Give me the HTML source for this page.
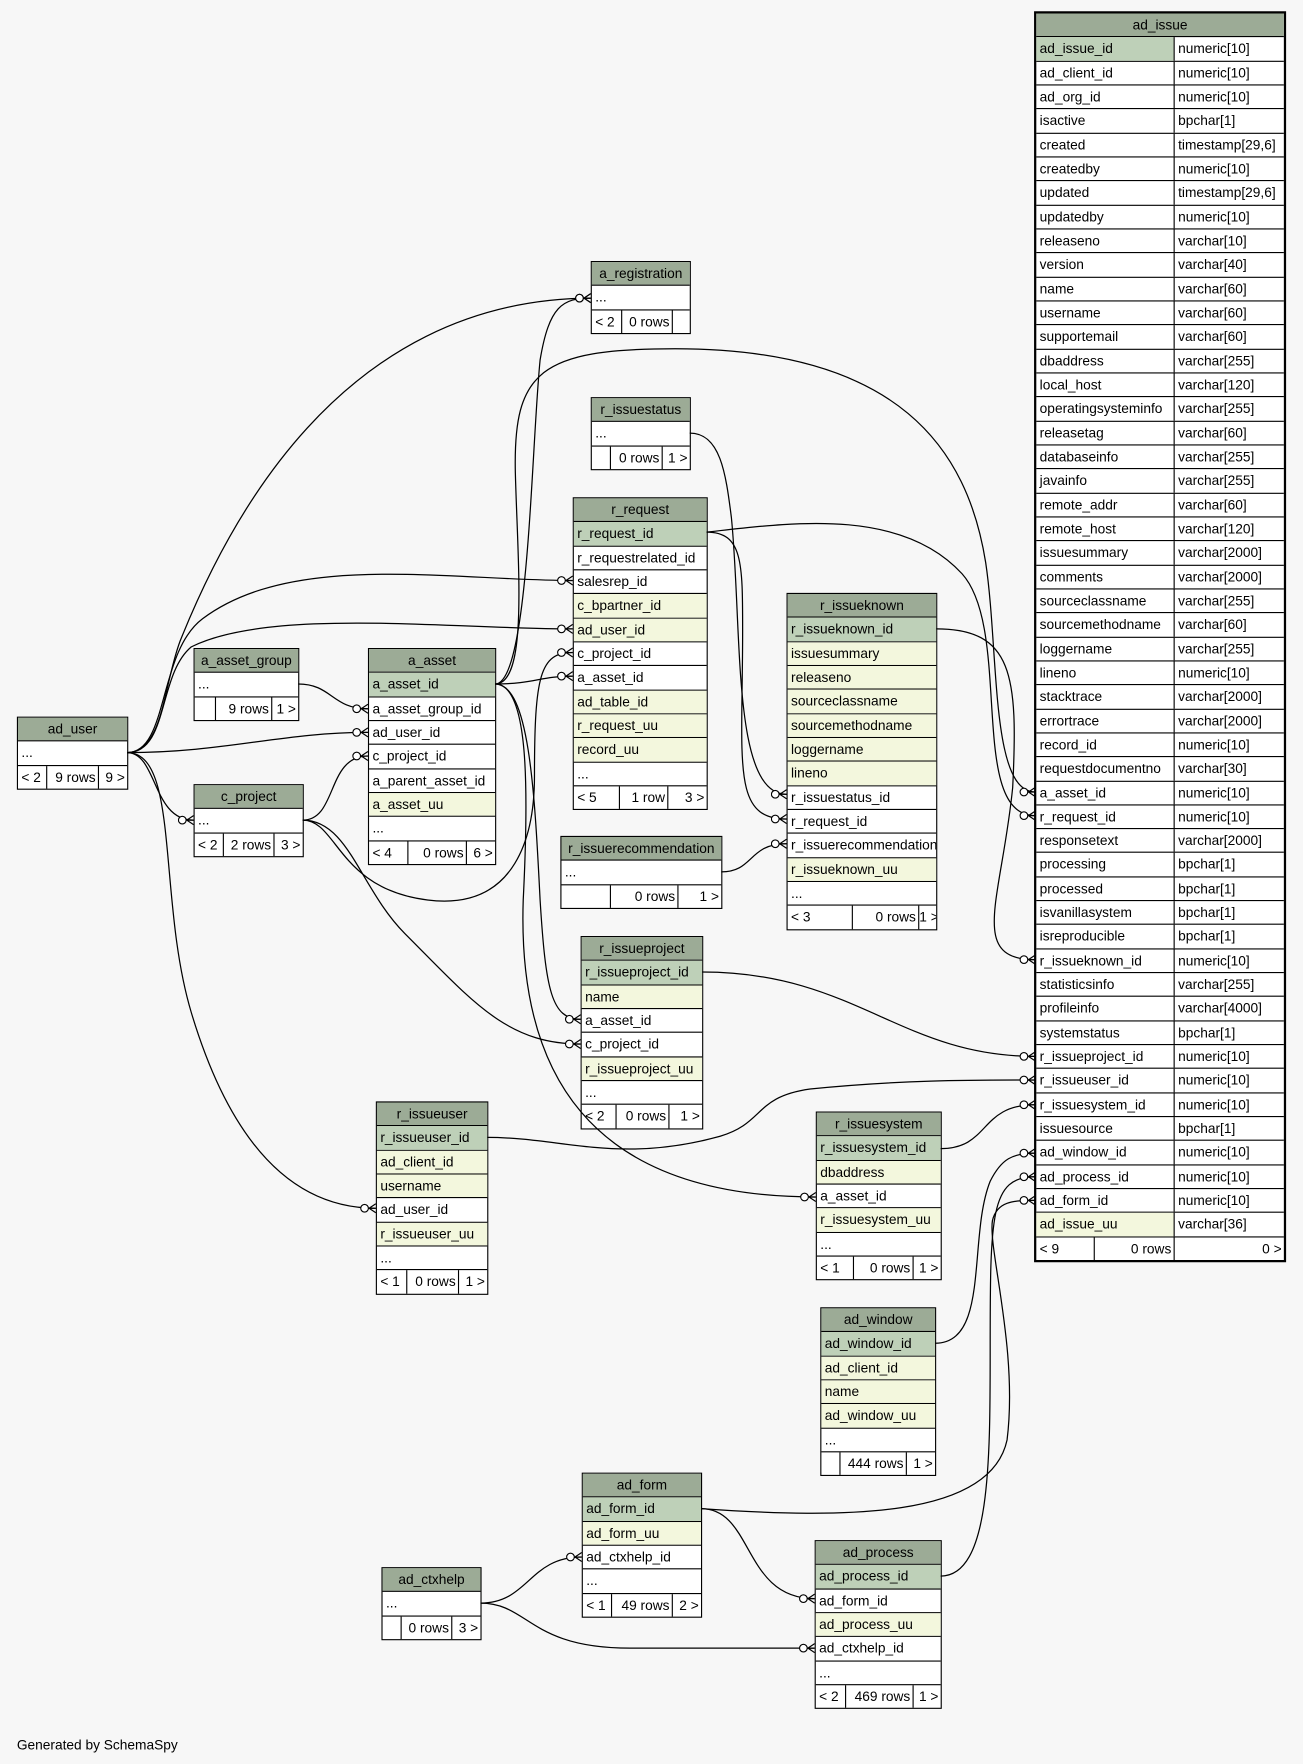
<!DOCTYPE html>
<html><head><meta charset="utf-8"><style>
html,body{margin:0;padding:0;background:#f7f7f7;}
#c{position:absolute;left:0;top:0;width:1158px;height:1568px;transform:scale(1.1252,1.125);transform-origin:0 0;font-family:"Liberation Sans",Arial,sans-serif;font-size:12.2px;color:#000;}
.t{position:absolute;box-sizing:border-box;border:1px solid #000;background:#fff;}
.t.b{border:2px solid #000;}
.h{height:20.33px;line-height:20.33px;background:#9cab96;text-align:center;}
.r{display:flex;height:20.33px;border-top:1px solid #000;line-height:20.33px;white-space:nowrap;}
.r span{box-sizing:border-box;padding:0 2px 0 3px;overflow:hidden;}
.r span+span{border-left:1px solid #000;}
.r span:last-child{flex:1;}
.p>span:first-child{background:#bed0b8;}
.y>span:first-child{background:#f3f7dd;}
.f .rt{text-align:right;}
svg{position:absolute;left:0;top:0;}
#g{position:absolute;left:15px;top:1544px;}
</style></head><body><div id="c">

<div class="t b" style="left:919px;top:10px;width:224px;">
<div class="h">ad_issue</div>
<div class="r p"><span style="width:122px">ad_issue_id</span><span>numeric[10]</span></div>
<div class="r"><span style="width:122px">ad_client_id</span><span>numeric[10]</span></div>
<div class="r"><span style="width:122px">ad_org_id</span><span>numeric[10]</span></div>
<div class="r"><span style="width:122px">isactive</span><span>bpchar[1]</span></div>
<div class="r"><span style="width:122px">created</span><span>timestamp[29,6]</span></div>
<div class="r"><span style="width:122px">createdby</span><span>numeric[10]</span></div>
<div class="r"><span style="width:122px">updated</span><span>timestamp[29,6]</span></div>
<div class="r"><span style="width:122px">updatedby</span><span>numeric[10]</span></div>
<div class="r"><span style="width:122px">releaseno</span><span>varchar[10]</span></div>
<div class="r"><span style="width:122px">version</span><span>varchar[40]</span></div>
<div class="r"><span style="width:122px">name</span><span>varchar[60]</span></div>
<div class="r"><span style="width:122px">username</span><span>varchar[60]</span></div>
<div class="r"><span style="width:122px">supportemail</span><span>varchar[60]</span></div>
<div class="r"><span style="width:122px">dbaddress</span><span>varchar[255]</span></div>
<div class="r"><span style="width:122px">local_host</span><span>varchar[120]</span></div>
<div class="r"><span style="width:122px">operatingsysteminfo</span><span>varchar[255]</span></div>
<div class="r"><span style="width:122px">releasetag</span><span>varchar[60]</span></div>
<div class="r"><span style="width:122px">databaseinfo</span><span>varchar[255]</span></div>
<div class="r"><span style="width:122px">javainfo</span><span>varchar[255]</span></div>
<div class="r"><span style="width:122px">remote_addr</span><span>varchar[60]</span></div>
<div class="r"><span style="width:122px">remote_host</span><span>varchar[120]</span></div>
<div class="r"><span style="width:122px">issuesummary</span><span>varchar[2000]</span></div>
<div class="r"><span style="width:122px">comments</span><span>varchar[2000]</span></div>
<div class="r"><span style="width:122px">sourceclassname</span><span>varchar[255]</span></div>
<div class="r"><span style="width:122px">sourcemethodname</span><span>varchar[60]</span></div>
<div class="r"><span style="width:122px">loggername</span><span>varchar[255]</span></div>
<div class="r"><span style="width:122px">lineno</span><span>numeric[10]</span></div>
<div class="r"><span style="width:122px">stacktrace</span><span>varchar[2000]</span></div>
<div class="r"><span style="width:122px">errortrace</span><span>varchar[2000]</span></div>
<div class="r"><span style="width:122px">record_id</span><span>numeric[10]</span></div>
<div class="r"><span style="width:122px">requestdocumentno</span><span>varchar[30]</span></div>
<div class="r"><span style="width:122px">a_asset_id</span><span>numeric[10]</span></div>
<div class="r"><span style="width:122px">r_request_id</span><span>numeric[10]</span></div>
<div class="r"><span style="width:122px">responsetext</span><span>varchar[2000]</span></div>
<div class="r"><span style="width:122px">processing</span><span>bpchar[1]</span></div>
<div class="r"><span style="width:122px">processed</span><span>bpchar[1]</span></div>
<div class="r"><span style="width:122px">isvanillasystem</span><span>bpchar[1]</span></div>
<div class="r"><span style="width:122px">isreproducible</span><span>bpchar[1]</span></div>
<div class="r"><span style="width:122px">r_issueknown_id</span><span>numeric[10]</span></div>
<div class="r"><span style="width:122px">statisticsinfo</span><span>varchar[255]</span></div>
<div class="r"><span style="width:122px">profileinfo</span><span>varchar[4000]</span></div>
<div class="r"><span style="width:122px">systemstatus</span><span>bpchar[1]</span></div>
<div class="r"><span style="width:122px">r_issueproject_id</span><span>numeric[10]</span></div>
<div class="r"><span style="width:122px">r_issueuser_id</span><span>numeric[10]</span></div>
<div class="r"><span style="width:122px">r_issuesystem_id</span><span>numeric[10]</span></div>
<div class="r"><span style="width:122px">issuesource</span><span>bpchar[1]</span></div>
<div class="r"><span style="width:122px">ad_window_id</span><span>numeric[10]</span></div>
<div class="r"><span style="width:122px">ad_process_id</span><span>numeric[10]</span></div>
<div class="r"><span style="width:122px">ad_form_id</span><span>numeric[10]</span></div>
<div class="r y"><span style="width:122px">ad_issue_uu</span><span>varchar[36]</span></div>
<div class="r f"><span style="width:51px">&lt; 9</span><span class="rt" style="width:71px">0 rows</span><span class="rt">0 &gt;</span></div>
</div>

<div class="t" style="left:525px;top:232px;width:89px;">
<div class="h">a_registration</div>
<div class="r"><span>...</span></div>
<div class="r f"><span style="width:26px">&lt; 2</span><span class="rt" style="width:45px">0 rows</span><span></span></div>
</div>

<div class="t" style="left:525px;top:353px;width:89px;">
<div class="h">r_issuestatus</div>
<div class="r"><span>...</span></div>
<div class="r f"><span style="width:16px"></span><span class="rt" style="width:46px">0 rows</span><span class="rt">1 &gt;</span></div>
</div>

<div class="t" style="left:509px;top:442px;width:120px;">
<div class="h">r_request</div>
<div class="r p"><span>r_request_id</span></div>
<div class="r"><span>r_requestrelated_id</span></div>
<div class="r"><span>salesrep_id</span></div>
<div class="r y"><span>c_bpartner_id</span></div>
<div class="r y"><span>ad_user_id</span></div>
<div class="r"><span>c_project_id</span></div>
<div class="r"><span>a_asset_id</span></div>
<div class="r y"><span>ad_table_id</span></div>
<div class="r y"><span>r_request_uu</span></div>
<div class="r y"><span>record_uu</span></div>
<div class="r"><span>...</span></div>
<div class="r f"><span style="width:40px">&lt; 5</span><span class="rt" style="width:43px">1 row</span><span class="rt">3 &gt;</span></div>
</div>

<div class="t" style="left:699px;top:527px;width:134px;">
<div class="h">r_issueknown</div>
<div class="r p"><span>r_issueknown_id</span></div>
<div class="r y"><span>issuesummary</span></div>
<div class="r y"><span>releaseno</span></div>
<div class="r y"><span>sourceclassname</span></div>
<div class="r y"><span>sourcemethodname</span></div>
<div class="r y"><span>loggername</span></div>
<div class="r y"><span>lineno</span></div>
<div class="r"><span>r_issuestatus_id</span></div>
<div class="r"><span>r_request_id</span></div>
<div class="r"><span>r_issuerecommendation_id</span></div>
<div class="r y"><span>r_issueknown_uu</span></div>
<div class="r"><span>...</span></div>
<div class="r f"><span style="width:57px">&lt; 3</span><span class="rt" style="width:59px">0 rows</span><span class="rt" style="padding:0 2px 0 0">1 &gt;</span></div>
</div>

<div class="t" style="left:498px;top:743px;width:144px;">
<div class="h">r_issuerecommendation</div>
<div class="r"><span>...</span></div>
<div class="r f"><span style="width:43px"></span><span class="rt" style="width:60px">0 rows</span><span class="rt">1 &gt;</span></div>
</div>

<div class="t" style="left:172px;top:576px;width:94px;">
<div class="h">a_asset_group</div>
<div class="r"><span>...</span></div>
<div class="r f"><span style="width:18px"></span><span class="rt" style="width:50px">9 rows</span><span class="rt">1 &gt;</span></div>
</div>

<div class="t" style="left:327px;top:576px;width:114px;">
<div class="h">a_asset</div>
<div class="r p"><span>a_asset_id</span></div>
<div class="r"><span>a_asset_group_id</span></div>
<div class="r"><span>ad_user_id</span></div>
<div class="r"><span>c_project_id</span></div>
<div class="r"><span>a_parent_asset_id</span></div>
<div class="r y"><span>a_asset_uu</span></div>
<div class="r"><span>...</span></div>
<div class="r f"><span style="width:34px">&lt; 4</span><span class="rt" style="width:52px">0 rows</span><span class="rt">6 &gt;</span></div>
</div>

<div class="t" style="left:15px;top:637px;width:99px;">
<div class="h">ad_user</div>
<div class="r"><span>...</span></div>
<div class="r f"><span style="width:25px">&lt; 2</span><span class="rt" style="width:46px">9 rows</span><span class="rt">9 &gt;</span></div>
</div>

<div class="t" style="left:172px;top:697px;width:98px;">
<div class="h">c_project</div>
<div class="r"><span>...</span></div>
<div class="r f"><span style="width:25px">&lt; 2</span><span class="rt" style="width:45px">2 rows</span><span class="rt">3 &gt;</span></div>
</div>

<div class="t" style="left:516px;top:832px;width:109px;">
<div class="h">r_issueproject</div>
<div class="r p"><span>r_issueproject_id</span></div>
<div class="r y"><span>name</span></div>
<div class="r"><span>a_asset_id</span></div>
<div class="r"><span>c_project_id</span></div>
<div class="r y"><span>r_issueproject_uu</span></div>
<div class="r"><span>...</span></div>
<div class="r f"><span style="width:30px">&lt; 2</span><span class="rt" style="width:47px">0 rows</span><span class="rt">1 &gt;</span></div>
</div>

<div class="t" style="left:334px;top:979px;width:100px;">
<div class="h">r_issueuser</div>
<div class="r p"><span>r_issueuser_id</span></div>
<div class="r y"><span>ad_client_id</span></div>
<div class="r y"><span>username</span></div>
<div class="r"><span>ad_user_id</span></div>
<div class="r y"><span>r_issueuser_uu</span></div>
<div class="r"><span>...</span></div>
<div class="r f"><span style="width:26px">&lt; 1</span><span class="rt" style="width:46px">0 rows</span><span class="rt">1 &gt;</span></div>
</div>

<div class="t" style="left:725px;top:988px;width:112px;">
<div class="h">r_issuesystem</div>
<div class="r p"><span>r_issuesystem_id</span></div>
<div class="r y"><span>dbaddress</span></div>
<div class="r"><span>a_asset_id</span></div>
<div class="r y"><span>r_issuesystem_uu</span></div>
<div class="r"><span>...</span></div>
<div class="r f"><span style="width:32px">&lt; 1</span><span class="rt" style="width:53px">0 rows</span><span class="rt">1 &gt;</span></div>
</div>

<div class="t" style="left:729px;top:1162px;width:103px;">
<div class="h">ad_window</div>
<div class="r p"><span>ad_window_id</span></div>
<div class="r y"><span>ad_client_id</span></div>
<div class="r y"><span>name</span></div>
<div class="r y"><span>ad_window_uu</span></div>
<div class="r"><span>...</span></div>
<div class="r f"><span style="width:16px"></span><span class="rt" style="width:59px">444 rows</span><span class="rt">1 &gt;</span></div>
</div>

<div class="t" style="left:517px;top:1309px;width:107px;">
<div class="h">ad_form</div>
<div class="r p"><span>ad_form_id</span></div>
<div class="r y"><span>ad_form_uu</span></div>
<div class="r"><span>ad_ctxhelp_id</span></div>
<div class="r"><span>...</span></div>
<div class="r f"><span style="width:25px">&lt; 1</span><span class="rt" style="width:54px">49 rows</span><span class="rt">2 &gt;</span></div>
</div>

<div class="t" style="left:339px;top:1393px;width:89px;">
<div class="h">ad_ctxhelp</div>
<div class="r"><span>...</span></div>
<div class="r f"><span style="width:16px"></span><span class="rt" style="width:45px">0 rows</span><span class="rt">3 &gt;</span></div>
</div>

<div class="t" style="left:724px;top:1369px;width:113px;">
<div class="h">ad_process</div>
<div class="r p"><span>ad_process_id</span></div>
<div class="r"><span>ad_form_id</span></div>
<div class="r y"><span>ad_process_uu</span></div>
<div class="r"><span>ad_ctxhelp_id</span></div>
<div class="r"><span>...</span></div>
<div class="r f"><span style="width:26px">&lt; 2</span><span class="rt" style="width:60px">469 rows</span><span class="rt">1 &gt;</span></div>
</div>

<svg width="1158" height="1568" viewBox="0 0 1158 1568">
<defs><marker id="m" viewBox="-14 -6 16 12" markerWidth="16" markerHeight="12" refX="0" refY="0" orient="auto" markerUnits="userSpaceOnUse">
<path d="M-6.5,0 L0,0 M-6,0 L0,-4 M-6,0 L0,4" stroke="#000" stroke-width="1" fill="none"/>
<circle cx="-10" cy="0" r="3.4" fill="#fff" stroke="#000" stroke-width="1"/></marker></defs>
<g fill="none" stroke="#000" stroke-width="1.1" marker-end="url(#m)">
<path d="M113,669 C145,669 145,610 160,570 C200,470 300,266 525,265"/>
<path d="M440,608 C470,608 472,400 480,320 C488,272 500,265 525,265"/>
<path d="M113,669 C150,669 140,580 180,550 C260,490 400,516 509,516"/>
<path d="M113,669 C150,669 140,600 170,575 C240,540 400,559 509,559"/>
<path d="M113,669 C200,669 250,651 327,651"/>
<path d="M113,669 C140,669 135,729 172,729"/>
<path d="M113,669 C160,669 140,800 170,900 C200,1000 250,1074 334,1074"/>
<path d="M265,608 C295,608 295,630 327,630"/>
<path d="M269,729 C300,729 290,672 327,672"/>
<path d="M269,729 C300,729 300,790 380,800 C460,810 475,740 475,690 C475,600 480,580 509,580"/>
<path d="M269,729 C310,729 320,790 360,830 C420,890 450,928 516,928"/>
<path d="M440,608 C475,608 480,601 509,601"/>
<path d="M440,608 C470,608 475,700 480,800 C485,880 490,906 516,906"/>
<path d="M440,608 C470,608 470,700 465,800 C460,950 520,1064 725,1064"/>
<path d="M440,608 C470,608 460,500 458,420 C456,330 480,310 600,310 C800,310 860,400 876,500 C888,580 880,704 920,704"/>
<path d="M613,385 C640,385 645,420 650,460 C660,560 650,706 699,706"/>
<path d="M628,473 C660,473 660,500 660,560 C660,680 650,728 699,728"/>
<path d="M628,473 C700,465 800,450 855,510 C900,560 860,725 920,725"/>
<path d="M641,775 C670,775 665,750 699,750"/>
<path d="M832,559 C900,559 905,600 900,700 C890,800 860,853 920,853"/>
<path d="M624,864 C760,864 800,939 920,939"/>
<path d="M433,1011 C500,1011 550,1035 640,1010 C680,998 670,975 720,968 C800,960 860,960 920,960"/>
<path d="M836,1021 C880,1021 870,982 920,982"/>
<path d="M831,1194 C880,1194 860,1100 880,1050 C890,1030 900,1025 920,1025"/>
<path d="M836,1401 C880,1401 880,1300 880,1200 C880,1080 880,1046 920,1046"/>
<path d="M623,1341 C750,1350 880,1350 895,1280 C905,1200 878,1110 882,1085 C886,1068 900,1067 920,1067"/>
<path d="M623,1341 C670,1341 660,1421 724,1421"/>
<path d="M427,1425 C470,1425 470,1384 517,1384"/>
<path d="M427,1425 C470,1425 470,1465 560,1465 C640,1465 680,1465 724,1465"/>
</g></svg>

<div id="g">Generated by SchemaSpy</div>
</div></body></html>
